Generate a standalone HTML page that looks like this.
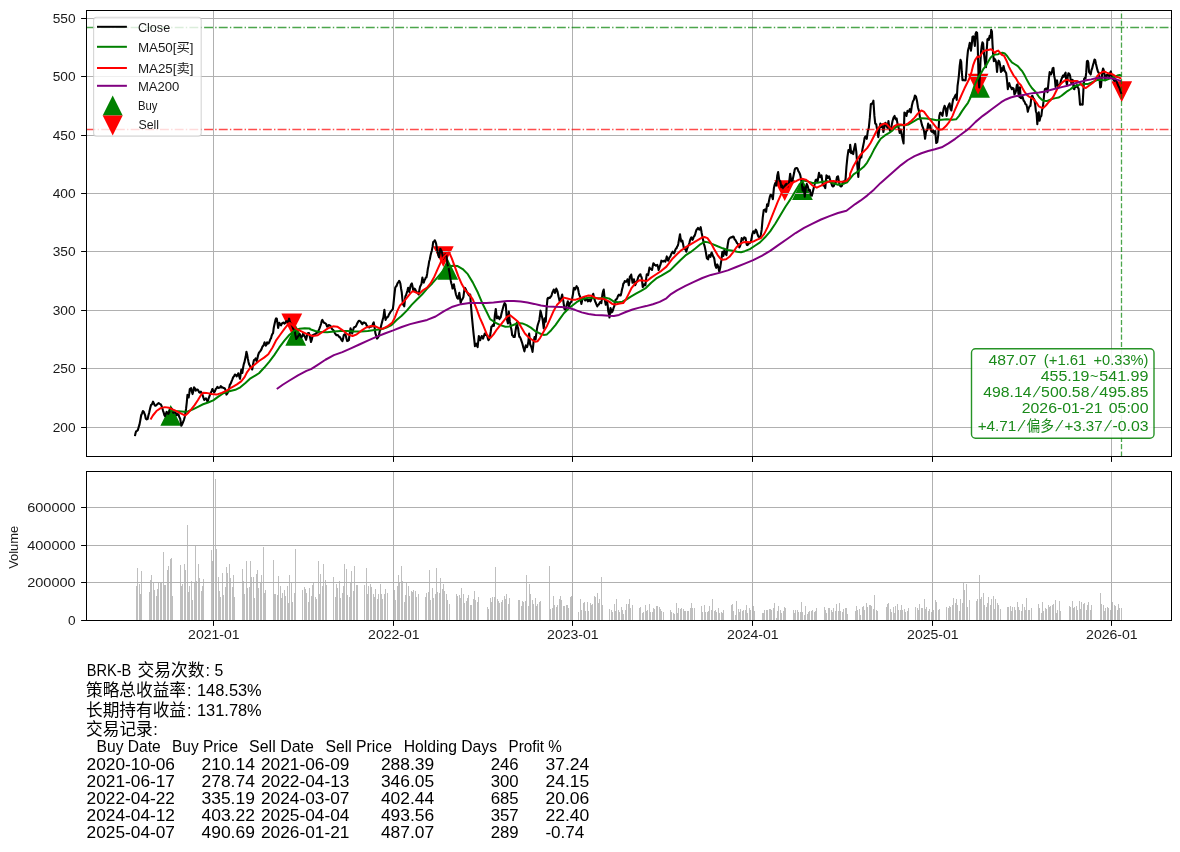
<!DOCTYPE html>
<html><head><meta charset="utf-8"><title>BRK-B</title>
<style>html,body{margin:0;padding:0;background:#fff}svg{display:block}</style></head>
<body>
<svg width="1180" height="852" viewBox="0 0 1180 852" font-family='"Liberation Sans","Noto Sans CJK SC",sans-serif'>
<rect width="1180" height="852" fill="#fff"/>
<clipPath id="c1"><rect x="86.5" y="10.5" width="1085.0" height="446.0"/></clipPath>
<clipPath id="c2"><rect x="86.5" y="471.5" width="1085.0" height="149.0"/></clipPath>
<g clip-path="url(#c1)">
</g>
<g clip-path="url(#c1)">
<polygon points="170.75,405.06 160.35,425.86 181.15,425.86" fill="#008000"/>
<polygon points="295.71,324.86 285.31,345.66 306.11,345.66" fill="#008000"/>
<polygon points="447.73,258.86 437.33,279.66 458.13,279.66" fill="#008000"/>
<polygon points="802.44,179.32 792.04,200.12 812.84,200.12" fill="#008000"/>
<polygon points="979.55,77.05 969.15,97.85 989.95,97.85" fill="#008000"/>
<polygon points="291.77,334.37 281.37,313.57 302.17,313.57" fill="#ff0000"/>
<polygon points="443.30,266.96 432.90,246.16 453.70,246.16" fill="#ff0000"/>
<polygon points="784.73,201.03 774.33,180.23 795.13,180.23" fill="#ff0000"/>
<polygon points="978.07,94.49 967.67,73.69 988.47,73.69" fill="#ff0000"/>
<polygon points="1121.73,102.08 1111.33,81.28 1132.13,81.28" fill="#ff0000"/>
<line x1="213.50" x2="213.50" y1="10.5" y2="456.5" stroke="#b0b0b0" stroke-width="1"/>
<line x1="393.50" x2="393.50" y1="10.5" y2="456.5" stroke="#b0b0b0" stroke-width="1"/>
<line x1="572.50" x2="572.50" y1="10.5" y2="456.5" stroke="#b0b0b0" stroke-width="1"/>
<line x1="752.50" x2="752.50" y1="10.5" y2="456.5" stroke="#b0b0b0" stroke-width="1"/>
<line x1="932.50" x2="932.50" y1="10.5" y2="456.5" stroke="#b0b0b0" stroke-width="1"/>
<line x1="1111.50" x2="1111.50" y1="10.5" y2="456.5" stroke="#b0b0b0" stroke-width="1"/>
<line x1="86.5" x2="1171.5" y1="427.50" y2="427.50" stroke="#b0b0b0" stroke-width="1"/>
<line x1="86.5" x2="1171.5" y1="368.50" y2="368.50" stroke="#b0b0b0" stroke-width="1"/>
<line x1="86.5" x2="1171.5" y1="310.50" y2="310.50" stroke="#b0b0b0" stroke-width="1"/>
<line x1="86.5" x2="1171.5" y1="251.50" y2="251.50" stroke="#b0b0b0" stroke-width="1"/>
<line x1="86.5" x2="1171.5" y1="193.50" y2="193.50" stroke="#b0b0b0" stroke-width="1"/>
<line x1="86.5" x2="1171.5" y1="135.50" y2="135.50" stroke="#b0b0b0" stroke-width="1"/>
<line x1="86.5" x2="1171.5" y1="76.50" y2="76.50" stroke="#b0b0b0" stroke-width="1"/>
<line x1="86.5" x2="1171.5" y1="18.50" y2="18.50" stroke="#b0b0b0" stroke-width="1"/>
<polyline points="134.92,436.10 135.51,433.31 136.10,431.36 136.95,430.84 137.80,430.17 138.65,427.17 139.49,424.58 140.34,420.08 141.19,415.25 142.03,413.34 142.88,411.02 143.73,411.76 144.58,413.90 145.17,415.49 145.76,418.64 146.69,419.35 147.63,418.98 148.39,415.46 149.15,412.71 150.09,408.47 151.02,405.08 152.04,404.18 153.05,401.69 153.90,403.51 154.75,405.42 155.59,405.79 156.44,405.08 157.54,404.03 158.64,403.05 159.66,403.87 160.68,404.24 161.53,405.80 162.37,408.47 163.05,410.81 163.73,412.71 164.32,414.99 164.92,416.10 165.76,414.02 166.61,411.86 167.46,413.27 168.31,413.90 169.16,412.31 170.00,410.17 170.84,408.62 171.69,408.47 172.54,411.00 173.39,412.71 174.24,412.43 175.08,411.86 175.93,413.24 176.78,415.25 177.62,414.08 178.47,414.41 179.32,417.11 180.17,418.64 180.76,422.16 181.36,425.76 182.21,424.25 183.05,422.03 183.90,420.10 184.75,416.95 185.43,413.05 186.10,408.47 186.78,402.37 187.46,394.92 188.05,396.02 188.64,397.46 189.24,393.70 189.83,388.98 190.51,388.47 191.19,388.14 191.87,391.80 192.54,394.07 193.31,391.29 194.07,387.29 194.91,388.34 195.76,390.68 196.61,389.50 197.46,389.49 198.31,390.48 199.15,392.37 200.00,392.69 200.85,391.53 201.69,393.12 202.54,394.92 203.39,397.66 204.24,400.00 205.09,398.84 205.93,398.31 206.78,400.01 207.63,401.69 208.47,398.97 209.32,396.61 210.17,394.25 211.02,392.37 211.69,390.81 212.37,388.98 213.22,390.81 214.07,392.37 214.91,391.32 215.76,388.98 216.61,388.17 217.46,386.78 218.31,387.98 219.15,387.80 220.00,387.52 220.85,386.10 221.69,387.48 222.54,387.29 223.39,387.99 224.24,388.14 224.83,388.45 225.42,389.83 226.44,394.58 227.29,393.63 228.14,391.53 228.99,388.88 229.83,384.75 230.68,383.70 231.53,381.36 232.38,379.35 233.22,377.12 234.07,376.19 234.92,374.58 235.76,374.96 236.61,376.27 237.46,375.28 238.31,373.22 239.16,376.13 240.00,378.81 240.68,373.81 241.36,369.49 242.37,372.88 243.05,367.95 243.73,364.41 244.41,362.43 245.08,359.32 245.76,356.29 246.44,351.69 247.12,354.42 247.80,358.47 248.48,361.92 249.15,364.41 249.83,365.54 250.51,366.95 251.35,367.66 252.20,369.49 253.05,364.50 253.90,360.17 254.75,359.75 255.59,358.47 256.61,361.02 257.38,358.65 258.14,355.08 258.99,352.66 259.83,351.69 260.68,350.60 261.53,349.15 262.38,346.73 263.22,345.76 263.90,344.41 264.58,342.37 265.17,343.79 265.76,345.76 266.44,344.67 267.12,342.37 267.97,343.56 268.81,343.22 269.66,341.11 270.51,338.98 271.10,338.08 271.69,335.59 272.37,334.02 273.05,333.05 273.64,328.56 274.24,325.42 274.91,322.61 275.59,319.49 276.18,318.32 276.78,318.64 277.46,322.82 278.14,327.97 278.73,325.28 279.32,322.88 280.17,324.33 281.02,325.42 281.87,323.60 282.71,322.88 283.56,322.57 284.41,323.73 285.25,323.05 286.10,321.19 286.95,321.31 287.80,322.03 288.48,321.07 289.15,318.64 289.75,321.39 290.34,322.88 291.18,323.95 292.03,325.42 292.62,327.05 293.22,328.81 293.90,329.69 294.58,330.51 295.42,334.98 296.27,338.98 297.12,337.86 297.97,336.44 298.82,335.26 299.66,333.90 300.51,335.79 301.36,337.29 302.21,336.30 303.05,333.90 303.90,335.18 304.75,336.44 305.43,338.02 306.10,339.83 306.70,337.22 307.29,333.90 308.13,333.06 308.98,333.05 310.00,337.18 311.02,341.95 311.87,339.32 312.71,335.17 313.56,334.78 314.41,334.32 315.25,333.97 316.10,333.47 316.95,332.27 317.80,332.63 318.64,330.37 319.49,328.39 320.34,325.98 321.19,323.31 321.78,320.85 322.37,319.92 323.05,321.38 323.73,322.46 324.58,323.10 325.42,323.31 326.27,324.30 327.12,326.69 327.97,326.05 328.81,325.00 329.66,325.37 330.51,325.85 331.36,327.83 332.20,329.24 333.05,329.85 333.90,330.93 334.75,332.96 335.59,334.32 336.44,335.13 337.29,335.17 338.13,335.25 338.98,336.86 339.83,337.01 340.68,338.56 341.52,340.11 342.37,341.10 343.05,338.88 343.73,335.17 344.58,334.35 345.42,334.32 346.27,337.64 347.12,341.10 347.97,340.82 348.81,340.25 349.66,334.03 350.51,328.39 351.36,330.71 352.20,333.47 353.05,330.21 353.90,327.54 354.75,326.91 355.59,326.69 356.44,325.15 357.29,323.31 358.13,321.72 358.98,320.76 359.83,320.99 360.68,321.61 361.52,323.32 362.37,324.15 363.22,322.55 364.07,322.46 364.91,323.00 365.76,323.31 366.61,325.38 367.46,326.69 368.30,326.81 369.15,327.54 370.00,326.67 370.85,326.69 371.70,326.33 372.54,325.00 373.13,323.31 373.73,322.46 374.58,327.46 375.42,333.47 376.27,335.91 377.12,338.56 377.97,337.61 378.81,336.02 379.66,331.57 380.51,328.39 381.36,324.72 382.20,321.61 382.79,319.22 383.39,317.37 384.41,309.75 385.00,315.37 385.59,319.92 386.18,318.55 386.78,317.37 387.46,317.52 388.14,316.53 388.99,314.31 389.83,313.14 390.68,311.60 391.53,310.59 392.20,309.99 392.88,308.90 393.48,304.01 394.07,297.88 394.66,292.72 395.25,287.71 395.93,286.43 396.61,286.02 397.29,283.72 397.97,282.63 398.56,281.83 399.15,280.93 399.75,281.71 400.34,283.47 401.01,288.20 401.69,291.95 402.37,298.85 403.05,304.66 403.64,305.00 404.24,306.36 404.83,300.92 405.42,296.19 406.10,294.99 406.78,292.80 407.46,290.48 408.14,287.71 408.73,290.32 409.32,291.95 409.91,288.74 410.51,286.02 411.19,284.15 411.86,283.47 412.54,286.53 413.22,290.25 413.90,289.88 414.58,288.56 415.25,289.46 415.93,291.10 416.61,291.70 417.29,292.80 417.97,293.51 418.64,294.49 419.32,290.55 420.00,286.86 420.68,285.45 421.36,284.32 422.37,277.54 423.05,280.76 423.73,282.63 424.40,280.38 425.08,279.24 425.76,277.60 426.44,277.54 427.12,274.01 427.80,269.07 428.48,265.86 429.15,261.44 429.83,259.25 430.51,255.51 431.19,252.86 431.86,250.42 432.54,246.91 433.22,241.95 433.99,241.78 434.75,240.25 435.43,241.50 436.10,243.64 436.87,248.27 437.63,252.12 438.31,255.20 438.98,257.20 439.66,253.23 440.34,248.73 441.01,250.03 441.69,251.27 442.46,254.75 443.22,258.90 443.90,256.95 444.58,255.51 445.34,254.22 446.10,253.81 446.78,258.20 447.46,263.98 448.13,266.67 448.81,269.07 449.40,272.12 450.00,275.85 450.68,280.16 451.36,283.47 451.95,285.29 452.54,288.56 453.22,287.09 453.90,284.32 454.57,288.02 455.25,291.10 455.93,294.32 456.61,296.19 457.29,298.09 457.97,298.73 458.64,296.40 459.32,292.80 460.00,298.01 460.68,302.97 461.36,300.50 462.03,299.58 462.71,298.70 463.39,297.03 464.07,291.84 464.75,287.71 465.43,288.66 466.10,290.25 466.78,291.79 467.46,292.80 468.13,294.11 468.81,295.34 469.49,294.78 470.17,294.49 471.19,308.05 471.87,316.38 472.54,323.31 473.13,329.42 473.73,335.17 474.33,340.43 474.92,346.19 475.60,344.52 476.27,343.64 476.95,345.91 477.63,347.03 478.22,341.49 478.81,336.02 479.49,338.59 480.17,340.25 480.93,337.90 481.69,336.02 482.37,336.81 483.05,338.56 483.90,336.07 484.75,333.47 485.43,334.83 486.10,335.17 486.70,335.07 487.29,336.02 487.88,338.60 488.47,340.25 489.15,339.23 489.83,336.86 490.17,335.25 490.76,331.50 491.36,326.78 492.03,326.45 492.71,325.08 493.30,324.72 493.90,325.93 494.92,314.92 495.76,308.98 496.36,313.85 496.95,318.31 497.63,318.04 498.31,316.61 498.90,317.16 499.49,319.15 500.09,317.94 500.68,317.46 501.36,314.12 502.03,311.53 502.71,309.03 503.39,306.44 503.99,304.62 504.58,303.05 505.17,303.86 505.76,304.75 506.78,318.31 507.38,321.29 507.97,323.39 508.81,311.53 509.83,321.69 510.42,323.86 511.02,327.63 511.61,330.73 512.20,335.25 512.88,335.50 513.56,336.95 514.15,336.35 514.75,336.95 515.34,332.02 515.93,328.47 516.95,322.54 517.55,326.26 518.14,328.47 518.73,333.28 519.32,336.95 520.00,337.13 520.68,338.64 521.27,340.34 521.86,342.03 522.54,344.28 523.22,347.12 523.82,348.94 524.41,351.36 525.09,348.15 525.76,345.42 526.44,346.51 527.12,347.12 527.71,344.71 528.31,342.03 529.15,333.56 530.17,344.58 530.76,345.63 531.36,347.12 531.95,349.00 532.54,351.86 533.56,342.03 534.58,336.95 535.59,339.49 536.18,334.56 536.78,330.17 537.38,326.60 537.97,324.24 538.64,322.21 539.32,320.00 539.91,315.69 540.51,310.68 541.53,314.92 542.12,317.27 542.71,320.00 543.73,328.47 544.75,318.31 545.76,321.69 546.61,308.14 547.46,298.81 548.05,297.89 548.64,298.31 549.24,297.63 549.83,297.97 550.51,296.92 551.19,296.27 551.87,294.32 552.54,292.03 553.13,291.21 553.73,289.49 554.33,290.99 554.92,292.88 555.60,291.24 556.27,288.64 556.87,290.11 557.46,291.19 558.47,296.27 559.07,298.71 559.66,301.36 560.34,299.88 561.02,298.81 561.61,296.69 562.20,294.58 562.80,298.29 563.39,301.36 564.41,308.98 565.00,309.28 565.59,309.83 566.18,307.60 566.78,304.75 567.80,301.36 568.39,303.84 568.98,306.44 569.58,304.34 570.17,303.05 570.85,302.26 571.53,301.36 572.20,298.28 572.88,294.58 573.48,290.50 574.07,287.80 574.66,288.52 575.25,289.49 575.93,287.68 576.61,286.10 577.20,287.56 577.80,287.80 578.81,292.88 579.40,295.27 580.00,296.27 580.68,299.88 581.36,303.90 581.95,301.57 582.54,297.97 583.13,298.01 583.73,297.12 584.40,298.43 585.08,300.51 585.76,299.60 586.44,298.81 587.12,299.48 587.80,301.36 588.47,301.01 589.15,299.66 589.83,300.77 590.51,301.36 591.18,299.86 591.86,297.12 592.54,295.89 593.22,293.73 593.90,296.96 594.58,299.66 595.25,301.73 595.93,303.05 596.61,304.85 597.29,306.44 597.96,304.96 598.64,304.75 599.32,303.62 600.00,302.20 600.68,301.83 601.36,303.05 602.37,294.58 603.05,291.46 603.73,289.49 604.75,299.66 605.76,304.75 606.44,303.49 607.12,301.36 607.71,305.72 608.31,311.53 608.90,313.84 609.49,317.46 610.51,308.14 611.10,309.61 611.69,312.37 612.37,311.71 613.05,309.83 613.64,307.62 614.24,306.44 614.91,302.29 615.59,299.66 616.44,299.36 617.29,297.97 618.13,295.67 618.98,294.58 619.83,295.55 620.68,295.42 621.36,292.73 622.03,289.49 622.71,287.06 623.39,283.56 624.07,283.01 624.75,281.02 625.42,281.57 626.10,281.86 626.78,281.07 627.46,279.32 628.13,281.54 628.81,285.25 629.83,276.78 630.51,276.11 631.19,274.58 631.87,278.66 632.54,282.71 633.22,281.36 633.90,279.32 634.49,281.66 635.08,285.25 635.76,283.95 636.44,281.86 637.04,281.29 637.63,279.32 638.31,276.92 638.98,275.93 639.66,274.80 640.34,274.24 641.02,276.04 641.69,277.63 642.71,286.95 643.39,286.20 644.07,284.41 644.75,284.42 645.42,285.25 646.10,279.23 646.78,274.24 647.46,274.26 648.14,275.08 648.82,271.46 649.49,267.46 650.17,268.71 650.85,269.15 651.44,269.40 652.03,270.00 652.71,266.40 653.39,263.22 653.99,263.90 654.58,264.92 655.25,265.10 655.93,265.76 656.61,265.21 657.29,264.92 657.96,266.79 658.64,270.00 659.32,267.88 660.00,265.76 660.68,263.98 661.36,260.68 662.04,260.97 662.71,261.53 663.39,261.50 664.07,260.68 664.75,260.56 665.42,261.53 666.10,259.29 666.78,256.44 667.46,258.97 668.14,260.68 668.82,259.26 669.49,257.29 670.17,256.78 670.85,255.11 671.53,253.39 672.12,252.51 672.71,251.69 673.31,252.77 673.90,253.39 674.58,252.33 675.25,250.00 675.93,248.59 676.61,248.31 677.20,246.39 677.80,245.76 678.39,243.19 678.98,239.83 680.00,234.24 680.60,238.55 681.19,241.53 681.78,241.13 682.37,240.68 683.05,243.98 683.73,247.46 684.40,248.66 685.08,249.15 685.67,249.92 686.27,251.69 686.95,249.20 687.63,247.46 688.22,245.71 688.81,244.92 689.49,242.51 690.17,239.83 690.76,238.26 691.36,237.29 691.95,238.13 692.54,239.83 693.22,238.44 693.90,236.44 694.58,235.90 695.25,233.90 695.93,231.45 696.61,229.66 697.29,229.14 697.97,227.97 698.64,228.68 699.32,229.66 700.00,228.96 700.68,227.12 701.69,233.05 702.71,238.14 703.73,243.22 704.75,246.61 705.76,251.69 706.36,255.22 706.95,258.47 707.55,258.52 708.14,259.32 709.15,255.08 709.83,255.48 710.51,256.78 711.10,253.90 711.69,252.54 712.29,254.20 712.88,255.93 713.56,257.01 714.24,258.47 715.25,265.25 716.27,267.80 717.29,264.41 718.31,266.95 719.32,271.69 720.34,266.95 721.36,260.17 722.37,251.69 723.39,255.93 724.41,250.00 725.42,253.39 726.44,255.08 727.46,246.61 728.05,242.70 728.64,239.83 729.24,238.76 729.83,238.14 730.51,237.43 731.19,237.29 731.87,237.47 732.54,236.78 733.22,236.46 733.90,237.29 734.58,239.35 735.25,239.83 735.93,241.07 736.61,242.37 737.29,243.38 737.97,244.07 738.64,245.71 739.32,247.46 740.00,246.30 740.68,244.07 741.69,238.14 742.37,239.50 743.05,239.83 743.64,238.65 744.24,237.29 744.91,237.69 745.59,238.14 746.18,241.88 746.78,244.92 747.46,245.07 748.14,244.07 748.82,243.49 749.49,243.22 750.17,242.75 750.85,241.53 751.53,238.88 752.20,234.75 753.22,231.36 753.90,232.15 754.58,233.05 755.17,230.92 755.76,229.66 756.36,230.51 756.95,232.20 757.63,234.67 758.31,236.44 758.98,237.15 759.66,237.29 760.25,236.75 760.85,234.75 761.69,229.66 762.71,217.80 763.73,210.17 764.40,210.31 765.08,209.32 766.10,211.86 767.12,204.24 768.14,205.93 768.73,202.13 769.32,199.15 769.91,196.54 770.51,194.92 771.18,194.95 771.86,195.76 772.88,199.15 773.90,188.14 774.58,185.09 775.25,183.05 776.27,185.59 777.29,175.42 778.14,172.03 779.15,179.66 779.75,180.84 780.34,181.36 781.36,187.29 782.37,185.59 783.05,187.86 783.73,188.98 784.40,187.92 785.08,185.59 785.76,184.35 786.44,183.90 787.12,185.75 787.80,186.44 788.47,184.02 789.15,182.20 790.17,173.73 791.19,180.51 792.20,182.20 792.88,178.69 793.56,175.42 794.15,172.82 794.75,169.49 795.42,168.24 796.10,168.31 796.87,167.99 797.63,168.98 798.31,171.04 798.98,172.03 799.66,173.39 800.34,175.42 800.93,178.58 801.53,182.20 802.12,186.57 802.71,190.68 803.73,187.29 804.75,196.61 805.76,188.14 806.78,183.90 807.80,186.44 808.81,190.68 809.83,189.83 810.85,194.92 811.86,195.76 812.88,191.53 813.90,187.29 814.49,185.03 815.08,182.20 815.67,180.14 816.27,179.66 816.95,180.25 817.63,181.36 818.31,177.02 818.98,172.88 819.58,174.98 820.17,177.12 820.85,175.81 821.53,175.42 822.12,179.80 822.71,183.90 823.39,185.47 824.07,185.59 824.66,186.69 825.25,188.14 825.85,181.85 826.44,175.42 827.12,176.09 827.80,177.97 828.47,176.76 829.15,176.27 829.75,178.65 830.34,180.51 830.93,181.59 831.53,183.90 832.20,185.79 832.88,186.44 833.56,186.25 834.24,184.75 834.91,183.26 835.59,183.05 836.27,180.79 836.95,177.12 837.97,176.27 838.64,179.88 839.32,183.90 840.00,185.61 840.68,186.44 841.36,186.43 842.03,185.59 842.71,183.15 843.39,181.36 844.41,183.05 845.00,181.21 845.59,178.81 846.44,166.95 847.46,156.78 848.47,150.00 849.15,151.09 849.83,151.69 850.17,144.75 851.19,153.22 852.20,151.53 853.22,154.07 854.24,148.14 855.25,143.90 856.27,151.53 857.29,165.08 858.31,176.95 859.32,161.69 860.34,156.61 861.36,157.46 862.37,149.83 863.39,144.75 863.99,141.85 864.58,137.97 865.17,136.74 865.76,136.27 866.78,138.81 867.80,131.19 868.81,127.80 869.83,117.63 870.85,104.07 871.53,104.05 872.20,103.22 872.80,102.69 873.39,100.68 874.41,115.93 875.25,123.56 876.27,124.41 877.29,131.19 878.31,137.12 879.32,129.49 880.34,123.56 881.36,126.95 882.37,124.41 883.39,132.03 884.41,126.95 885.42,122.71 886.44,125.25 887.46,127.80 888.47,121.02 889.49,129.49 890.51,131.19 891.53,126.10 892.54,121.02 893.56,117.63 894.58,115.93 895.59,119.32 896.61,118.47 897.63,124.41 898.64,127.80 899.66,132.88 900.68,129.49 901.69,134.58 902.71,139.66 903.56,143.39 904.41,112.54 905.42,113.39 906.44,115.93 907.46,110.85 908.05,111.55 908.64,111.69 909.24,110.48 909.83,109.15 910.85,112.54 911.86,105.76 912.88,101.53 913.90,99.83 914.92,95.59 915.93,96.44 916.95,100.68 917.97,107.46 918.98,110.85 920.00,117.63 921.02,121.02 922.03,125.25 923.05,127.80 924.07,131.19 925.08,138.81 926.10,131.19 927.12,130.34 928.14,123.56 929.15,127.80 930.17,125.25 931.19,131.19 932.20,132.03 933.22,130.34 934.24,133.73 935.25,131.19 936.27,143.05 937.29,142.20 938.31,134.58 939.32,115.93 940.08,112.88 940.67,112.56 941.27,113.47 941.87,114.65 942.46,115.85 943.05,112.05 943.64,108.73 944.59,105.76 945.66,108.73 946.61,115.85 947.20,112.04 947.80,107.54 948.75,105.17 949.58,103.39 950.41,108.73 951.36,110.51 952.31,103.98 953.14,99.24 954.08,98.05 954.92,96.27 955.86,94.49 956.69,99.83 957.53,86.19 958.24,80.85 958.83,76.10 959.66,66.02 960.49,59.85 961.20,61.86 961.80,71.95 962.51,80.25 963.22,79.66 963.82,80.24 964.41,80.25 965.00,80.36 965.59,80.25 966.42,70.76 967.14,58.90 967.97,50.59 968.92,47.03 969.75,42.88 970.34,44.66 970.93,50.59 971.76,44.66 972.47,36.95 973.31,36.36 974.14,40.51 974.85,45.85 975.56,33.98 976.27,32.20 977.10,32.80 977.69,43.47 978.17,62.46 978.64,80.25 979.24,87.37 979.83,76.69 980.42,62.46 981.02,51.78 981.73,45.85 982.44,42.29 983.15,43.47 983.86,52.97 984.58,58.90 985.29,64.83 986.00,67.20 986.71,50.59 987.42,39.32 988.14,38.73 988.85,39.92 989.68,35.76 990.51,37.54 991.22,29.83 991.93,31.61 992.53,44.66 993.12,54.15 993.83,61.27 994.66,58.90 995.49,60.08 996.20,62.46 997.03,71.95 997.86,63.64 998.58,60.68 999.41,61.86 1000.24,66.02 1000.95,71.95 1001.78,68.39 1002.61,70.76 1003.56,66.02 1004.51,70.17 1005.34,71.95 1006.17,73.14 1007.12,81.44 1007.83,89.15 1008.54,84.41 1009.25,83.22 1010.08,86.19 1010.92,87.37 1011.86,89.15 1012.69,87.97 1013.64,88.56 1014.47,94.49 1015.19,93.31 1016.02,90.93 1016.85,85.00 1017.56,84.41 1018.39,93.31 1019.22,96.86 1019.93,87.37 1020.76,98.05 1021.78,98.14 1022.61,96.95 1023.56,100.51 1024.51,101.69 1025.46,104.07 1026.41,104.66 1027.12,107.63 1027.83,111.78 1028.54,108.81 1029.49,106.44 1030.44,105.85 1031.39,96.95 1032.34,95.76 1033.29,98.14 1034.24,99.32 1035.19,104.66 1035.90,111.19 1036.61,113.56 1037.32,124.24 1038.03,115.93 1038.75,112.37 1039.58,120.68 1040.41,117.12 1041.36,115.93 1042.07,110.00 1042.78,107.63 1043.49,101.69 1044.20,93.39 1044.92,89.24 1045.86,88.64 1046.81,88.64 1047.53,92.20 1048.24,85.08 1048.95,77.97 1049.66,72.03 1050.37,73.22 1051.08,74.41 1051.80,72.63 1052.63,68.47 1053.46,67.88 1054.17,75.59 1054.88,79.15 1055.59,86.86 1056.31,80.93 1057.02,80.34 1057.73,85.08 1058.44,87.46 1059.15,85.68 1060.10,83.90 1061.05,80.34 1062.00,77.97 1062.95,75.59 1063.90,76.78 1064.61,74.41 1065.56,72.63 1066.27,81.53 1066.98,85.08 1067.69,76.78 1068.41,73.22 1069.36,73.81 1070.07,75.59 1070.78,80.34 1071.49,83.90 1072.20,79.75 1072.92,80.34 1073.63,88.64 1074.34,89.24 1075.05,85.68 1076.00,86.86 1076.95,85.08 1077.90,87.46 1078.61,88.64 1079.32,95.76 1080.03,104.66 1080.98,104.66 1081.93,104.07 1082.64,104.66 1083.36,91.02 1084.07,79.15 1084.78,77.97 1085.49,78.56 1086.20,72.63 1086.92,61.36 1087.63,60.76 1088.34,62.54 1089.05,72.03 1090.00,73.22 1090.71,74.41 1091.42,70.25 1092.14,68.47 1092.85,65.51 1093.56,63.14 1094.51,59.58 1095.22,60.17 1095.93,63.73 1096.64,66.69 1097.36,69.66 1098.07,72.03 1098.78,72.63 1099.49,77.97 1100.20,87.46 1100.92,86.86 1101.63,79.15 1102.34,72.03 1103.05,68.47 1103.76,70.25 1104.47,74.41 1105.19,80.34 1105.90,76.78 1106.61,75.00 1107.56,75.59 1108.51,74.41 1109.46,76.78 1110.17,72.63 1110.88,71.44 1111.59,75.00 1112.54,77.97 1113.49,79.75 1114.44,80.93 1115.39,79.15 1116.34,80.93 1117.29,83.31 1118.24,85.68 1119.19,87.46 1120.14,89.83 1120.85,92.20 1121.44,93.98" fill="none" stroke="#000000" stroke-width="2.1" stroke-linejoin="round" stroke-linecap="butt"/>
<polyline points="170.00,410.17 175.93,411.02 184.41,411.86 187.80,411.53 192.88,409.32 197.97,406.78 203.05,404.24 208.14,402.54 213.22,400.34 218.31,396.61 223.39,393.22 228.47,391.53 235.25,389.83 240.34,387.29 245.42,383.05 250.51,378.31 255.59,375.42 258.98,373.22 264.07,367.80 269.15,361.86 274.24,355.08 279.32,347.46 284.41,340.68 289.49,334.75 294.58,330.51 299.66,328.81 304.75,328.14 309.83,328.47 310.17,329.24 315.25,330.93 320.34,332.12 327.12,332.29 333.90,331.44 340.68,330.93 347.46,331.10 354.24,331.44 361.02,331.44 367.80,330.93 374.58,330.08 381.36,329.24 386.44,327.54 391.53,325.00 396.61,319.92 401.69,315.68 406.78,310.59 411.86,304.66 416.95,299.58 422.03,294.49 427.12,288.56 432.20,283.47 437.29,277.54 442.37,271.61 447.46,267.37 452.54,265.68 457.63,266.02 462.71,269.07 467.80,274.15 472.88,282.63 477.97,292.80 482.20,302.97 486.44,311.44 490.17,319.15 495.25,322.54 500.34,325.08 505.42,326.78 509.66,326.44 513.90,324.75 518.14,323.05 522.37,323.39 526.61,325.08 530.85,327.63 535.08,331.02 539.32,333.22 543.56,334.92 546.95,334.41 551.19,330.17 555.42,325.08 559.66,319.15 563.90,313.22 568.14,308.98 572.37,305.59 576.61,302.20 580.85,299.66 585.08,298.31 590.17,297.63 595.25,298.31 600.34,298.31 605.42,297.63 609.66,298.81 613.90,301.69 618.14,302.20 622.37,301.69 626.61,299.32 630.85,296.61 635.93,293.73 641.02,290.85 646.10,287.80 651.19,282.71 656.27,278.47 661.36,275.59 666.44,272.54 670.17,270.34 675.25,265.25 680.34,260.17 685.42,255.42 690.51,252.20 695.59,248.31 700.68,244.07 704.41,241.86 708.31,242.37 712.54,244.07 717.63,246.27 722.71,248.31 727.80,250.00 732.88,250.85 737.12,251.69 741.02,252.20 744.75,251.19 749.83,249.15 754.92,245.76 760.00,242.37 765.08,237.29 770.17,231.36 775.25,223.73 780.34,215.25 785.42,206.78 790.51,199.15 795.59,190.68 799.83,183.90 803.22,180.51 807.46,181.36 812.54,183.05 817.63,182.71 822.71,181.86 827.80,181.36 832.88,183.05 837.97,184.75 843.05,183.90 847.29,182.20 853.56,174.41 858.64,171.02 863.73,166.78 867.12,162.54 870.51,156.61 873.90,149.83 877.29,143.90 880.68,138.81 884.92,135.42 889.15,132.88 892.54,130.34 895.93,126.95 900.17,125.25 904.41,125.25 908.64,124.41 912.88,121.86 917.12,119.32 921.36,118.14 926.44,118.47 931.53,119.32 936.61,120.17 941.69,119.66 946.78,119.32 951.86,119.83 956.10,119.32 959.07,115.85 962.03,111.10 965.00,106.95 967.97,102.80 970.34,98.05 972.12,92.71 973.90,87.37 976.27,81.44 978.64,76.69 981.02,73.14 983.39,68.98 985.76,66.02 988.14,61.86 990.51,57.71 992.88,55.34 995.25,54.39 998.22,54.15 1000.00,53.20 1002.37,52.73 1004.75,53.56 1007.12,55.93 1009.49,59.49 1011.86,62.46 1014.83,64.24 1017.80,66.02 1020.17,68.98 1022.37,71.44 1024.75,75.59 1027.12,80.34 1029.49,84.49 1031.86,88.05 1034.24,90.42 1036.61,93.39 1038.98,96.95 1041.36,99.32 1043.73,100.86 1046.69,101.10 1049.66,99.92 1052.63,98.73 1055.59,98.14 1058.56,97.54 1061.53,95.76 1064.49,93.39 1067.46,91.02 1070.42,89.24 1073.39,86.86 1076.36,85.68 1079.32,84.85 1082.29,84.14 1085.25,83.90 1088.22,83.90 1091.19,82.71 1094.15,81.29 1097.12,80.10 1100.08,79.75 1103.05,80.34 1106.02,80.10 1108.98,78.92 1111.95,77.73 1114.92,76.78 1117.29,75.59 1119.66,75.00 1121.44,75.59" fill="none" stroke="#008000" stroke-width="2.0" stroke-linejoin="round" stroke-linecap="butt"/>
<polyline points="150.51,419.49 153.05,415.25 156.44,411.02 160.68,408.14 164.92,407.12 169.15,407.80 174.24,410.17 179.32,412.71 185.25,415.59 187.80,413.22 191.19,409.32 194.58,405.08 197.97,400.00 201.02,394.92 203.05,392.71 206.44,392.88 211.53,394.07 216.61,394.58 221.69,392.88 226.78,390.68 231.86,387.29 236.95,384.41 241.19,381.36 244.58,377.12 247.12,372.03 249.66,368.64 253.90,365.25 258.98,361.02 264.07,357.63 268.31,354.24 272.54,347.46 275.93,340.68 280.17,334.75 284.41,328.81 287.80,324.58 289.49,322.88 292.88,325.42 296.27,328.81 301.36,331.36 306.44,333.90 312.71,336.02 317.80,335.17 322.88,331.78 327.97,328.39 333.05,326.36 337.29,326.69 342.37,330.08 347.46,334.32 352.54,336.02 356.78,334.32 361.02,330.93 366.10,327.54 371.19,326.02 375.42,326.36 379.66,328.39 383.05,328.73 388.14,325.85 392.37,322.46 394.92,317.37 397.46,310.59 400.00,305.51 403.39,302.12 406.78,297.88 410.17,293.64 412.71,291.10 416.10,292.46 419.49,293.64 422.88,290.25 427.12,287.71 430.51,283.47 433.90,277.54 437.29,269.92 440.68,262.29 444.07,256.36 447.46,252.97 449.15,252.46 451.69,258.05 455.08,267.37 458.47,276.69 461.86,284.32 465.25,290.25 469.49,294.49 472.88,299.58 476.27,308.05 479.66,317.37 483.05,325.00 486.44,333.47 488.98,337.71 490.51,337.80 493.56,334.41 496.95,329.32 500.34,325.08 503.73,320.85 507.12,316.61 510.17,315.25 513.90,318.31 518.14,321.69 521.53,327.63 524.92,333.56 528.31,336.95 531.69,339.49 535.08,341.69 537.63,341.19 540.17,337.80 543.56,331.86 546.95,325.93 550.34,318.31 553.73,310.68 557.12,304.75 560.51,301.36 563.90,297.63 567.29,298.47 571.53,299.66 575.76,299.66 580.00,298.31 584.24,296.61 588.47,295.42 591.86,295.76 595.25,297.63 598.64,298.81 602.03,298.47 605.42,299.66 608.81,301.36 612.20,303.90 615.59,304.41 619.83,303.56 623.22,303.05 625.76,299.66 628.31,294.58 631.69,287.80 635.08,283.56 639.32,280.17 642.71,280.51 646.95,281.02 651.19,277.63 656.27,274.24 661.36,270.85 666.44,266.61 672.71,258.47 676.95,254.24 681.19,250.34 685.42,247.46 689.66,244.92 693.90,242.37 698.14,239.83 701.53,237.80 704.41,236.95 707.46,238.14 710.85,242.88 714.24,249.15 717.63,255.08 720.17,258.47 722.71,259.83 726.10,259.32 729.49,256.78 732.88,252.54 736.27,247.46 739.66,244.07 743.05,242.37 746.44,242.03 749.83,242.37 753.22,241.53 756.61,239.83 760.85,238.14 764.24,233.90 767.63,227.12 771.02,218.64 774.41,210.17 777.80,201.69 781.19,194.07 784.58,188.98 787.97,185.59 791.36,183.05 795.59,181.36 798.98,179.66 802.03,178.81 805.76,179.66 809.15,182.20 812.54,185.59 816.78,187.63 821.02,185.59 825.25,183.05 829.49,181.36 833.73,181.02 837.97,181.86 842.20,181.86 846.44,181.02 849.83,177.12 850.17,173.56 853.56,165.93 856.95,160.00 860.34,154.92 863.73,151.53 867.12,148.14 870.51,143.05 873.90,136.27 877.29,129.49 880.68,125.25 884.07,123.56 886.61,124.07 889.15,126.95 891.69,129.15 894.24,126.10 897.63,124.41 901.02,124.41 904.41,125.25 907.80,123.56 911.19,121.02 914.58,117.63 917.97,113.39 921.36,110.51 923.90,111.69 926.44,115.08 929.83,119.32 933.22,123.56 936.61,127.80 939.15,129.83 942.54,129.15 945.93,126.10 949.32,121.86 952.54,115.85 954.92,109.92 957.29,104.58 959.66,99.24 962.03,93.90 964.41,88.56 966.78,83.81 969.15,79.07 971.53,71.95 973.31,64.83 975.08,60.08 977.46,56.53 979.24,57.12 981.02,54.75 983.39,51.19 985.76,50.36 988.14,50.00 991.10,49.17 992.88,50.59 994.66,52.97 996.44,51.19 998.22,50.59 1000.00,52.73 1001.78,54.75 1004.15,55.93 1006.53,60.68 1008.90,66.61 1011.27,71.36 1013.64,75.51 1016.02,78.47 1018.39,82.63 1020.76,85.00 1022.37,88.05 1024.75,92.20 1027.12,95.17 1029.49,96.95 1031.86,98.14 1034.24,99.92 1036.61,102.88 1038.98,106.44 1041.36,107.63 1043.73,107.63 1046.10,105.25 1048.47,102.29 1050.85,99.92 1053.22,96.95 1055.59,92.20 1057.97,87.46 1060.34,84.49 1062.71,82.12 1065.08,80.34 1067.46,79.75 1069.83,80.93 1072.20,81.53 1074.58,80.93 1076.95,80.93 1079.32,82.12 1081.69,85.08 1084.07,87.46 1085.85,88.05 1088.22,86.27 1090.59,84.49 1092.97,82.71 1095.34,80.34 1097.12,76.19 1099.49,73.81 1101.86,72.27 1104.24,71.44 1106.61,72.63 1108.98,73.46 1111.36,73.81 1113.73,75.00 1116.10,76.78 1118.47,77.37 1121.44,78.56" fill="none" stroke="#ff0000" stroke-width="2.0" stroke-linejoin="round" stroke-linecap="butt"/>
<polyline points="276.78,388.98 282.71,384.75 289.49,380.51 297.97,375.42 306.44,370.85 311.02,369.07 316.95,365.34 325.42,359.75 333.90,355.17 342.37,352.12 350.85,348.39 359.32,344.49 367.80,340.59 376.27,336.86 384.75,333.47 393.22,330.42 401.69,327.03 410.17,324.15 418.64,321.95 427.12,319.92 435.59,316.53 444.07,311.10 452.54,306.69 461.02,304.15 469.49,302.97 477.97,302.97 486.44,302.97 493.56,302.54 500.34,301.69 507.12,301.02 513.90,301.02 520.68,301.53 527.46,302.54 534.24,303.90 541.02,305.59 547.80,306.44 554.58,306.78 561.36,306.95 568.14,307.80 574.92,309.83 581.69,312.37 588.47,314.07 595.25,314.92 602.03,315.25 608.81,315.76 613.90,315.93 618.98,314.92 625.76,312.03 632.54,309.49 639.32,307.63 646.10,306.10 652.88,304.24 659.66,301.86 666.44,298.31 671.02,294.07 676.95,290.34 685.42,285.93 693.90,281.86 702.37,277.97 710.85,274.92 719.32,272.88 727.80,270.34 736.27,266.95 744.75,263.56 753.22,260.17 761.69,255.93 770.17,250.85 778.64,244.92 787.12,238.98 795.59,233.05 804.07,227.97 812.54,223.73 821.02,219.49 829.49,216.10 837.97,213.05 846.44,210.68 855.25,204.07 860.34,200.68 867.12,195.59 873.90,189.66 880.68,182.88 887.46,176.95 894.24,171.02 901.02,165.08 907.80,160.00 914.58,156.10 921.36,153.22 928.14,151.02 934.92,149.32 941.69,147.29 948.47,143.39 955.25,138.81 962.03,133.73 968.81,128.64 975.59,121.86 982.80,115.85 986.95,112.88 991.69,109.32 996.44,105.76 1001.19,102.20 1005.93,99.47 1010.68,97.46 1015.42,96.27 1020.17,95.44 1024.75,94.81 1029.49,93.63 1034.24,93.03 1038.98,92.56 1043.73,91.85 1048.47,90.42 1053.22,89.24 1057.97,88.05 1062.71,86.86 1067.46,85.68 1072.20,84.14 1076.95,82.71 1081.69,81.53 1086.44,80.34 1091.19,79.39 1095.93,78.20 1100.68,77.73 1105.42,77.73 1110.17,77.97 1114.92,78.92 1118.47,80.10 1121.44,81.29" fill="none" stroke="#800080" stroke-width="2.0" stroke-linejoin="round" stroke-linecap="butt"/>
<line x1="86.5" x2="1171.5" y1="27.5" y2="27.5" stroke="#008000" stroke-opacity="0.7" stroke-width="1.3" stroke-dasharray="8.9,2.2,1.4,2.2"/>
<line x1="86.5" x2="1171.5" y1="129.5" y2="129.5" stroke="#ff0000" stroke-opacity="0.7" stroke-width="1.3" stroke-dasharray="8.9,2.2,1.4,2.2"/>
<line x1="1121.50" x2="1121.50" y1="456.5" y2="10.5" stroke="#008000" stroke-opacity="0.7" stroke-width="1.3" stroke-dasharray="5.1,2.2"/>
</g>
<rect x="86.5" y="10.5" width="1085.0" height="446.0" fill="none" stroke="#000" stroke-width="1"/>
<line x1="213.50" x2="213.50" y1="456.5" y2="461.9" stroke="#000" stroke-width="1"/>
<line x1="393.50" x2="393.50" y1="456.5" y2="461.9" stroke="#000" stroke-width="1"/>
<line x1="572.50" x2="572.50" y1="456.5" y2="461.9" stroke="#000" stroke-width="1"/>
<line x1="752.50" x2="752.50" y1="456.5" y2="461.9" stroke="#000" stroke-width="1"/>
<line x1="932.50" x2="932.50" y1="456.5" y2="461.9" stroke="#000" stroke-width="1"/>
<line x1="1111.50" x2="1111.50" y1="456.5" y2="461.9" stroke="#000" stroke-width="1"/>
<line x1="81.1" x2="86.5" y1="427.50" y2="427.50" stroke="#000" stroke-width="1"/>
<text x="75.60" y="431.90" font-size="12.5" text-anchor="end" fill="#1a1a1a" textLength="22.9" lengthAdjust="spacingAndGlyphs">200</text>
<line x1="81.1" x2="86.5" y1="368.50" y2="368.50" stroke="#000" stroke-width="1"/>
<text x="75.60" y="372.90" font-size="12.5" text-anchor="end" fill="#1a1a1a" textLength="22.9" lengthAdjust="spacingAndGlyphs">250</text>
<line x1="81.1" x2="86.5" y1="310.50" y2="310.50" stroke="#000" stroke-width="1"/>
<text x="75.60" y="314.90" font-size="12.5" text-anchor="end" fill="#1a1a1a" textLength="22.9" lengthAdjust="spacingAndGlyphs">300</text>
<line x1="81.1" x2="86.5" y1="251.50" y2="251.50" stroke="#000" stroke-width="1"/>
<text x="75.60" y="255.90" font-size="12.5" text-anchor="end" fill="#1a1a1a" textLength="22.9" lengthAdjust="spacingAndGlyphs">350</text>
<line x1="81.1" x2="86.5" y1="193.50" y2="193.50" stroke="#000" stroke-width="1"/>
<text x="75.60" y="197.90" font-size="12.5" text-anchor="end" fill="#1a1a1a" textLength="22.9" lengthAdjust="spacingAndGlyphs">400</text>
<line x1="81.1" x2="86.5" y1="135.50" y2="135.50" stroke="#000" stroke-width="1"/>
<text x="75.60" y="139.90" font-size="12.5" text-anchor="end" fill="#1a1a1a" textLength="22.9" lengthAdjust="spacingAndGlyphs">450</text>
<line x1="81.1" x2="86.5" y1="76.50" y2="76.50" stroke="#000" stroke-width="1"/>
<text x="75.60" y="80.90" font-size="12.5" text-anchor="end" fill="#1a1a1a" textLength="22.9" lengthAdjust="spacingAndGlyphs">500</text>
<line x1="81.1" x2="86.5" y1="18.50" y2="18.50" stroke="#000" stroke-width="1"/>
<text x="75.60" y="22.90" font-size="12.5" text-anchor="end" fill="#1a1a1a" textLength="22.9" lengthAdjust="spacingAndGlyphs">550</text>
<rect x="93.6" y="17.2" width="107.6" height="119.1" rx="3" ry="3" fill="#fff" fill-opacity="0.8" stroke="#ccc" stroke-opacity="0.8" stroke-width="1.1"/>
<line x1="97" x2="126.9" y1="26.8" y2="26.8" stroke="#000" stroke-width="2.0"/>
<line x1="97" x2="126.9" y1="46.8" y2="46.8" stroke="#008000" stroke-width="2.0"/>
<line x1="97" x2="126.9" y1="68.0" y2="68.0" stroke="#f00" stroke-width="2.0"/>
<line x1="97" x2="126.9" y1="85.8" y2="85.8" stroke="#800080" stroke-width="2.0"/>
<polygon points="112.70,95.60 102.70,115.60 122.70,115.60" fill="#008000"/>
<polygon points="112.70,135.40 102.70,115.40 122.70,115.40" fill="#ff0000"/>
<text x="137.90" y="31.80" font-size="12.5" text-anchor="start" fill="#1a1a1a" textLength="32.3" lengthAdjust="spacingAndGlyphs">Close</text>
<text x="137.90" y="51.50" font-size="12.5" text-anchor="start" fill="#1a1a1a" textLength="55.7" lengthAdjust="spacingAndGlyphs">MA50[买]</text>
<text x="137.90" y="72.60" font-size="12.5" text-anchor="start" fill="#1a1a1a" textLength="55.7" lengthAdjust="spacingAndGlyphs">MA25[卖]</text>
<text x="137.90" y="91.20" font-size="12.5" text-anchor="start" fill="#1a1a1a" textLength="41.5" lengthAdjust="spacingAndGlyphs">MA200</text>
<text x="137.90" y="109.50" font-size="12.5" text-anchor="start" fill="#1a1a1a" textLength="19.5" lengthAdjust="spacingAndGlyphs">Buy</text>
<text x="138.50" y="128.70" font-size="12.5" text-anchor="start" fill="#1a1a1a" textLength="20.6" lengthAdjust="spacingAndGlyphs">Sell</text>
<rect x="971.5" y="348.7" width="182.5" height="89.5" rx="4" ry="4" fill="#fff" fill-opacity="0.85" stroke="#008000" stroke-opacity="0.85" stroke-width="1.4"/>
<text x="988.41" y="365.00" font-size="15.3" text-anchor="start" fill="#1a8a1a" textLength="48.2" lengthAdjust="spacingAndGlyphs">487.07</text>
<text x="1043.73" y="365.00" font-size="15.3" text-anchor="start" fill="#1a8a1a" textLength="42.7" lengthAdjust="spacingAndGlyphs">(+1.61</text>
<text x="1093.56" y="365.00" font-size="15.3" text-anchor="start" fill="#1a8a1a" textLength="54.9" lengthAdjust="spacingAndGlyphs">+0.33%)</text>
<text x="1040.68" y="380.60" font-size="15.3" text-anchor="start" fill="#1a8a1a" textLength="48.8" lengthAdjust="spacingAndGlyphs">455.19</text>
<text x="1090.10" y="380.60" font-size="15.3" text-anchor="start" fill="#1a8a1a" textLength="8.5" lengthAdjust="spacingAndGlyphs">~</text>
<text x="1099.25" y="380.60" font-size="15.3" text-anchor="start" fill="#1a8a1a" textLength="49.2" lengthAdjust="spacingAndGlyphs">541.99</text>
<text x="983.32" y="396.70" font-size="15.3" text-anchor="start" fill="#1a8a1a" textLength="48.2" lengthAdjust="spacingAndGlyphs">498.14</text>
<text transform="translate(1032.84,396.7) skewX(-19)" font-size="15.3" fill="#1a8a1a">/</text>
<text x="1041.08" y="396.70" font-size="15.3" text-anchor="start" fill="#1a8a1a" textLength="48.4" lengthAdjust="spacingAndGlyphs">500.58</text>
<text transform="translate(1090.81,396.7) skewX(-19)" font-size="15.3" fill="#1a8a1a">/</text>
<text x="1099.25" y="396.70" font-size="15.3" text-anchor="start" fill="#1a8a1a" textLength="49.2" lengthAdjust="spacingAndGlyphs">495.85</text>
<text x="1021.76" y="412.90" font-size="15.3" text-anchor="start" fill="#1a8a1a" textLength="80.9" lengthAdjust="spacingAndGlyphs">2026-01-21</text>
<text x="1108.81" y="412.90" font-size="15.3" text-anchor="start" fill="#1a8a1a" textLength="39.7" lengthAdjust="spacingAndGlyphs">05:00</text>
<text x="977.63" y="430.90" font-size="15.3" text-anchor="start" fill="#1a8a1a" textLength="38.6" lengthAdjust="spacingAndGlyphs">+4.71</text>
<text transform="translate(1017.59,430.9) skewX(-19)" font-size="15.3" fill="#1a8a1a">/</text>
<text x="1026.44" y="430.90" font-size="15.3" text-anchor="start" fill="#1a8a1a" textLength="27.5" lengthAdjust="spacingAndGlyphs">偏多</text>
<text transform="translate(1055.22,430.9) skewX(-19)" font-size="15.3" fill="#1a8a1a">/</text>
<text x="1064.47" y="430.90" font-size="15.3" text-anchor="start" fill="#1a8a1a" textLength="38.2" lengthAdjust="spacingAndGlyphs">+3.37</text>
<text transform="translate(1104.03,430.9) skewX(-19)" font-size="15.3" fill="#1a8a1a">/</text>
<text x="1112.47" y="430.90" font-size="15.3" text-anchor="start" fill="#1a8a1a" textLength="36.0" lengthAdjust="spacingAndGlyphs">-0.03</text>
<g clip-path="url(#c2)">
<path d="M136 620.5V586.2h1V620.5zM137 620.5V567.5h1V620.5zM139 620.5V583.8h1V620.5zM140 620.5V593.8h1V620.5zM141 620.5V571.2h1V620.5zM149 620.5V592.4h1V620.5zM150 620.5V579.5h1V620.5zM151 620.5V575.3h1V620.5zM153 620.5V582.5h1V620.5zM154 620.5V589.6h1V620.5zM156 620.5V595.7h1V620.5zM157 620.5V589.0h1V620.5zM158 620.5V581.6h1V620.5zM160 620.5V582.3h1V620.5zM161 620.5V583.0h1V620.5zM163 620.5V551.6h1V620.5zM164 620.5V585.0h1V620.5zM165 620.5V584.5h1V620.5zM167 620.5V569.8h1V620.5zM168 620.5V566.3h1V620.5zM170 620.5V559.4h1V620.5zM171 620.5V558.1h1V620.5zM172 620.5V595.8h1V620.5zM180 620.5V564.9h1V620.5zM181 620.5V585.8h1V620.5zM182 620.5V583.6h1V620.5zM184 620.5V563.6h1V620.5zM185 620.5V570.0h1V620.5zM187 620.5V524.5h1V620.5zM188 620.5V591.5h1V620.5zM189 620.5V585.8h1V620.5zM191 620.5V581.2h1V620.5zM192 620.5V599.6h1V620.5zM194 620.5V582.9h1V620.5zM195 620.5V544.6h1V620.5zM196 620.5V581.4h1V620.5zM198 620.5V563.5h1V620.5zM199 620.5V578.3h1V620.5zM201 620.5V591.4h1V620.5zM202 620.5V586.3h1V620.5zM203 620.5V578.9h1V620.5zM211 620.5V550.2h1V620.5zM212 620.5V560.7h1V620.5zM213 620.5V582.4h1V620.5zM215 620.5V478.5h1V620.5zM216 620.5V548.5h1V620.5zM218 620.5V577.2h1V620.5zM219 620.5V591.1h1V620.5zM220 620.5V597.3h1V620.5zM222 620.5V572.7h1V620.5zM223 620.5V594.9h1V620.5zM225 620.5V586.5h1V620.5zM226 620.5V566.7h1V620.5zM227 620.5V572.7h1V620.5zM229 620.5V563.8h1V620.5zM230 620.5V577.8h1V620.5zM232 620.5V586.5h1V620.5zM233 620.5V575.4h1V620.5zM234 620.5V597.0h1V620.5zM242 620.5V568.8h1V620.5zM243 620.5V580.5h1V620.5zM244 620.5V594.3h1V620.5zM246 620.5V560.8h1V620.5zM247 620.5V588.2h1V620.5zM249 620.5V587.3h1V620.5zM250 620.5V560.5h1V620.5zM251 620.5V576.8h1V620.5zM253 620.5V577.0h1V620.5zM254 620.5V598.1h1V620.5zM256 620.5V574.2h1V620.5zM257 620.5V570.1h1V620.5zM258 620.5V588.4h1V620.5zM260 620.5V583.1h1V620.5zM261 620.5V575.0h1V620.5zM263 620.5V546.5h1V620.5zM264 620.5V593.1h1V620.5zM265 620.5V589.7h1V620.5zM273 620.5V559.8h1V620.5zM274 620.5V594.2h1V620.5zM275 620.5V594.2h1V620.5zM277 620.5V594.8h1V620.5zM278 620.5V576.3h1V620.5zM280 620.5V586.2h1V620.5zM281 620.5V597.8h1V620.5zM282 620.5V592.5h1V620.5zM284 620.5V590.2h1V620.5zM285 620.5V596.0h1V620.5zM287 620.5V586.2h1V620.5zM288 620.5V603.1h1V620.5zM289 620.5V574.8h1V620.5zM291 620.5V583.4h1V620.5zM292 620.5V601.8h1V620.5zM294 620.5V592.6h1V620.5zM295 620.5V548.5h1V620.5zM302 620.5V589.7h1V620.5zM304 620.5V587.0h1V620.5zM305 620.5V589.1h1V620.5zM306 620.5V592.6h1V620.5zM308 620.5V602.1h1V620.5zM309 620.5V587.7h1V620.5zM311 620.5V595.7h1V620.5zM312 620.5V584.5h1V620.5zM313 620.5V583.3h1V620.5zM315 620.5V597.0h1V620.5zM316 620.5V598.6h1V620.5zM318 620.5V560.5h1V620.5zM319 620.5V593.6h1V620.5zM320 620.5V574.2h1V620.5zM322 620.5V586.0h1V620.5zM323 620.5V563.5h1V620.5zM325 620.5V579.7h1V620.5zM326 620.5V585.4h1V620.5zM333 620.5V577.4h1V620.5zM335 620.5V597.3h1V620.5zM336 620.5V583.6h1V620.5zM337 620.5V587.5h1V620.5zM339 620.5V580.8h1V620.5zM340 620.5V597.5h1V620.5zM342 620.5V593.2h1V620.5zM343 620.5V586.1h1V620.5zM344 620.5V563.9h1V620.5zM346 620.5V569.3h1V620.5zM347 620.5V595.2h1V620.5zM349 620.5V597.3h1V620.5zM350 620.5V581.8h1V620.5zM351 620.5V571.4h1V620.5zM353 620.5V591.3h1V620.5zM354 620.5V566.2h1V620.5zM356 620.5V585.1h1V620.5zM357 620.5V585.4h1V620.5zM364 620.5V585.2h1V620.5zM366 620.5V567.5h1V620.5zM367 620.5V594.4h1V620.5zM368 620.5V585.5h1V620.5zM370 620.5V584.3h1V620.5zM371 620.5V586.8h1V620.5zM373 620.5V594.2h1V620.5zM374 620.5V596.9h1V620.5zM375 620.5V588.8h1V620.5zM377 620.5V598.8h1V620.5zM378 620.5V594.1h1V620.5zM380 620.5V584.3h1V620.5zM381 620.5V594.2h1V620.5zM382 620.5V598.8h1V620.5zM384 620.5V593.6h1V620.5zM385 620.5V588.6h1V620.5zM387 620.5V592.6h1V620.5zM394 620.5V590.0h1V620.5zM395 620.5V600.1h1V620.5zM397 620.5V586.1h1V620.5zM398 620.5V574.5h1V620.5zM399 620.5V583.4h1V620.5zM401 620.5V566.1h1V620.5zM402 620.5V581.4h1V620.5zM404 620.5V601.9h1V620.5zM405 620.5V594.7h1V620.5zM406 620.5V582.0h1V620.5zM408 620.5V586.4h1V620.5zM409 620.5V595.5h1V620.5zM411 620.5V591.3h1V620.5zM412 620.5V591.5h1V620.5zM413 620.5V590.2h1V620.5zM415 620.5V590.7h1V620.5zM416 620.5V596.9h1V620.5zM418 620.5V594.2h1V620.5zM425 620.5V596.7h1V620.5zM426 620.5V592.5h1V620.5zM428 620.5V591.9h1V620.5zM429 620.5V570.2h1V620.5zM430 620.5V600.2h1V620.5zM432 620.5V588.4h1V620.5zM433 620.5V598.4h1V620.5zM435 620.5V594.4h1V620.5zM436 620.5V568.4h1V620.5zM437 620.5V592.2h1V620.5zM439 620.5V592.8h1V620.5zM440 620.5V578.2h1V620.5zM442 620.5V588.9h1V620.5zM443 620.5V584.1h1V620.5zM444 620.5V590.6h1V620.5zM446 620.5V593.9h1V620.5zM447 620.5V600.1h1V620.5zM449 620.5V604.4h1V620.5zM456 620.5V594.4h1V620.5zM457 620.5V595.9h1V620.5zM459 620.5V594.6h1V620.5zM460 620.5V598.4h1V620.5zM461 620.5V588.3h1V620.5zM463 620.5V594.1h1V620.5zM464 620.5V603.0h1V620.5zM466 620.5V600.8h1V620.5zM467 620.5V598.4h1V620.5zM468 620.5V595.1h1V620.5zM470 620.5V605.3h1V620.5zM471 620.5V605.4h1V620.5zM473 620.5V598.8h1V620.5zM474 620.5V590.9h1V620.5zM475 620.5V599.5h1V620.5zM477 620.5V602.0h1V620.5zM478 620.5V596.6h1V620.5zM487 620.5V606.9h1V620.5zM488 620.5V608.8h1V620.5zM490 620.5V598.4h1V620.5zM491 620.5V602.3h1V620.5zM492 620.5V597.3h1V620.5zM494 620.5V596.9h1V620.5zM495 620.5V566.5h1V620.5zM497 620.5V599.2h1V620.5zM498 620.5V601.1h1V620.5zM499 620.5V603.0h1V620.5zM501 620.5V602.1h1V620.5zM502 620.5V600.3h1V620.5zM504 620.5V595.5h1V620.5zM505 620.5V598.8h1V620.5zM506 620.5V593.6h1V620.5zM508 620.5V603.6h1V620.5zM509 620.5V597.8h1V620.5zM518 620.5V600.1h1V620.5zM519 620.5V599.6h1V620.5zM521 620.5V605.7h1V620.5zM522 620.5V601.3h1V620.5zM523 620.5V602.2h1V620.5zM525 620.5V601.4h1V620.5zM526 620.5V574.5h1V620.5zM528 620.5V606.1h1V620.5zM529 620.5V583.7h1V620.5zM530 620.5V594.2h1V620.5zM532 620.5V599.7h1V620.5zM533 620.5V603.7h1V620.5zM535 620.5V598.2h1V620.5zM536 620.5V605.9h1V620.5zM537 620.5V603.9h1V620.5zM539 620.5V601.9h1V620.5zM540 620.5V600.6h1V620.5zM549 620.5V565.5h1V620.5zM550 620.5V609.0h1V620.5zM552 620.5V607.6h1V620.5zM553 620.5V596.1h1V620.5zM554 620.5V605.3h1V620.5zM556 620.5V607.2h1V620.5zM557 620.5V604.6h1V620.5zM559 620.5V599.0h1V620.5zM560 620.5V596.3h1V620.5zM561 620.5V599.5h1V620.5zM563 620.5V605.8h1V620.5zM564 620.5V606.4h1V620.5zM566 620.5V605.1h1V620.5zM567 620.5V604.8h1V620.5zM568 620.5V608.4h1V620.5zM570 620.5V597.3h1V620.5zM571 620.5V595.9h1V620.5zM578 620.5V611.6h1V620.5zM580 620.5V598.6h1V620.5zM581 620.5V609.9h1V620.5zM583 620.5V602.6h1V620.5zM584 620.5V601.6h1V620.5zM585 620.5V610.6h1V620.5zM587 620.5V601.8h1V620.5zM588 620.5V610.9h1V620.5zM590 620.5V602.7h1V620.5zM591 620.5V604.8h1V620.5zM592 620.5V603.6h1V620.5zM594 620.5V596.0h1V620.5zM595 620.5V596.7h1V620.5zM597 620.5V593.3h1V620.5zM598 620.5V602.8h1V620.5zM599 620.5V598.6h1V620.5zM601 620.5V576.5h1V620.5zM602 620.5V605.1h1V620.5zM609 620.5V608.7h1V620.5zM611 620.5V609.7h1V620.5zM612 620.5V611.9h1V620.5zM614 620.5V604.0h1V620.5zM615 620.5V611.1h1V620.5zM616 620.5V599.1h1V620.5zM618 620.5V609.5h1V620.5zM619 620.5V612.1h1V620.5zM621 620.5V606.8h1V620.5zM622 620.5V610.1h1V620.5zM623 620.5V613.8h1V620.5zM625 620.5V610.1h1V620.5zM626 620.5V603.5h1V620.5zM628 620.5V603.5h1V620.5zM629 620.5V599.2h1V620.5zM630 620.5V608.2h1V620.5zM632 620.5V604.8h1V620.5zM639 620.5V608.2h1V620.5zM640 620.5V607.3h1V620.5zM642 620.5V612.9h1V620.5zM643 620.5V611.8h1V620.5zM645 620.5V605.3h1V620.5zM646 620.5V610.9h1V620.5zM647 620.5V610.1h1V620.5zM649 620.5V603.9h1V620.5zM650 620.5V611.5h1V620.5zM652 620.5V611.9h1V620.5zM653 620.5V607.8h1V620.5zM654 620.5V609.4h1V620.5zM656 620.5V606.2h1V620.5zM657 620.5V606.4h1V620.5zM659 620.5V607.1h1V620.5zM660 620.5V609.0h1V620.5zM661 620.5V610.9h1V620.5zM663 620.5V612.3h1V620.5zM670 620.5V610.2h1V620.5zM671 620.5V611.7h1V620.5zM673 620.5V612.6h1V620.5zM674 620.5V614.3h1V620.5zM676 620.5V603.4h1V620.5zM677 620.5V613.1h1V620.5zM678 620.5V608.2h1V620.5zM680 620.5V609.1h1V620.5zM681 620.5V607.6h1V620.5zM683 620.5V608.9h1V620.5zM684 620.5V611.1h1V620.5zM685 620.5V611.3h1V620.5zM687 620.5V611.4h1V620.5zM688 620.5V611.3h1V620.5zM690 620.5V608.0h1V620.5zM691 620.5V603.2h1V620.5zM692 620.5V608.1h1V620.5zM694 620.5V607.9h1V620.5zM701 620.5V606.4h1V620.5zM702 620.5V612.4h1V620.5zM704 620.5V604.9h1V620.5zM705 620.5V612.4h1V620.5zM707 620.5V611.8h1V620.5zM708 620.5V610.5h1V620.5zM709 620.5V605.6h1V620.5zM711 620.5V609.8h1V620.5zM712 620.5V599.0h1V620.5zM714 620.5V610.8h1V620.5zM715 620.5V610.4h1V620.5zM716 620.5V611.5h1V620.5zM718 620.5V607.7h1V620.5zM719 620.5V613.1h1V620.5zM721 620.5V612.0h1V620.5zM722 620.5V612.8h1V620.5zM723 620.5V609.8h1V620.5zM731 620.5V604.8h1V620.5zM732 620.5V604.4h1V620.5zM733 620.5V611.4h1V620.5zM735 620.5V614.7h1V620.5zM736 620.5V600.8h1V620.5zM738 620.5V609.2h1V620.5zM739 620.5V612.4h1V620.5zM740 620.5V608.6h1V620.5zM742 620.5V611.2h1V620.5zM743 620.5V609.5h1V620.5zM745 620.5V609.6h1V620.5zM746 620.5V605.1h1V620.5zM747 620.5V612.7h1V620.5zM749 620.5V607.7h1V620.5zM750 620.5V609.7h1V620.5zM752 620.5V608.8h1V620.5zM753 620.5V606.1h1V620.5zM754 620.5V611.4h1V620.5zM762 620.5V612.5h1V620.5zM763 620.5V612.6h1V620.5zM764 620.5V609.6h1V620.5zM766 620.5V609.9h1V620.5zM767 620.5V609.5h1V620.5zM769 620.5V609.3h1V620.5zM770 620.5V609.0h1V620.5zM771 620.5V610.3h1V620.5zM773 620.5V607.9h1V620.5zM774 620.5V603.4h1V620.5zM776 620.5V617.6h1V620.5zM777 620.5V610.9h1V620.5zM778 620.5V606.0h1V620.5zM780 620.5V609.9h1V620.5zM781 620.5V613.2h1V620.5zM783 620.5V611.1h1V620.5zM784 620.5V606.9h1V620.5zM785 620.5V608.3h1V620.5zM793 620.5V609.8h1V620.5zM794 620.5V613.1h1V620.5zM795 620.5V610.3h1V620.5zM797 620.5V610.1h1V620.5zM798 620.5V611.8h1V620.5zM800 620.5V611.6h1V620.5zM801 620.5V602.1h1V620.5zM802 620.5V612.1h1V620.5zM804 620.5V614.5h1V620.5zM805 620.5V606.4h1V620.5zM807 620.5V613.7h1V620.5zM808 620.5V612.0h1V620.5zM809 620.5V611.3h1V620.5zM811 620.5V611.2h1V620.5zM812 620.5V610.0h1V620.5zM814 620.5V612.1h1V620.5zM815 620.5V610.6h1V620.5zM816 620.5V607.8h1V620.5zM824 620.5V607.2h1V620.5zM825 620.5V610.2h1V620.5zM826 620.5V613.4h1V620.5zM828 620.5V608.0h1V620.5zM829 620.5V608.4h1V620.5zM831 620.5V609.9h1V620.5zM832 620.5V611.5h1V620.5zM833 620.5V608.0h1V620.5zM835 620.5V611.4h1V620.5zM836 620.5V604.1h1V620.5zM838 620.5V611.0h1V620.5zM839 620.5V602.5h1V620.5zM840 620.5V610.9h1V620.5zM842 620.5V611.8h1V620.5zM843 620.5V609.4h1V620.5zM845 620.5V608.4h1V620.5zM846 620.5V607.7h1V620.5zM847 620.5V613.9h1V620.5zM855 620.5V610.9h1V620.5zM856 620.5V605.5h1V620.5zM857 620.5V610.4h1V620.5zM859 620.5V608.5h1V620.5zM860 620.5V614.6h1V620.5zM862 620.5V607.4h1V620.5zM863 620.5V606.4h1V620.5zM864 620.5V609.7h1V620.5zM866 620.5V603.1h1V620.5zM867 620.5V607.1h1V620.5zM869 620.5V604.6h1V620.5zM870 620.5V604.9h1V620.5zM871 620.5V606.3h1V620.5zM873 620.5V608.7h1V620.5zM874 620.5V594.7h1V620.5zM876 620.5V610.0h1V620.5zM877 620.5V610.7h1V620.5zM886 620.5V606.8h1V620.5zM887 620.5V604.4h1V620.5zM888 620.5V602.5h1V620.5zM890 620.5V609.0h1V620.5zM891 620.5V611.8h1V620.5zM893 620.5V607.4h1V620.5zM894 620.5V612.6h1V620.5zM895 620.5V605.6h1V620.5zM897 620.5V603.8h1V620.5zM898 620.5V609.6h1V620.5zM900 620.5V610.3h1V620.5zM901 620.5V604.7h1V620.5zM902 620.5V609.9h1V620.5zM904 620.5V609.3h1V620.5zM905 620.5V612.3h1V620.5zM907 620.5V610.9h1V620.5zM908 620.5V607.8h1V620.5zM915 620.5V607.2h1V620.5zM917 620.5V608.1h1V620.5zM918 620.5V610.4h1V620.5zM919 620.5V603.8h1V620.5zM921 620.5V608.1h1V620.5zM922 620.5V607.7h1V620.5zM924 620.5V599.1h1V620.5zM925 620.5V609.3h1V620.5zM926 620.5V606.8h1V620.5zM928 620.5V610.5h1V620.5zM929 620.5V608.6h1V620.5zM931 620.5V611.5h1V620.5zM932 620.5V606.4h1V620.5zM933 620.5V610.3h1V620.5zM935 620.5V600.4h1V620.5zM936 620.5V601.5h1V620.5zM938 620.5V610.3h1V620.5zM939 620.5V609.4h1V620.5zM946 620.5V606.8h1V620.5zM948 620.5V608.0h1V620.5zM949 620.5V605.9h1V620.5zM950 620.5V606.5h1V620.5zM952 620.5V605.0h1V620.5zM953 620.5V597.6h1V620.5zM955 620.5V603.0h1V620.5zM956 620.5V599.0h1V620.5zM957 620.5V605.3h1V620.5zM959 620.5V610.8h1V620.5zM960 620.5V598.6h1V620.5zM962 620.5V602.7h1V620.5zM963 620.5V582.5h1V620.5zM964 620.5V589.7h1V620.5zM966 620.5V583.5h1V620.5zM967 620.5V606.8h1V620.5zM969 620.5V600.4h1V620.5zM976 620.5V601.2h1V620.5zM977 620.5V598.7h1V620.5zM979 620.5V574.5h1V620.5zM980 620.5V599.1h1V620.5zM981 620.5V596.9h1V620.5zM983 620.5V592.7h1V620.5zM984 620.5V604.5h1V620.5zM986 620.5V607.1h1V620.5zM987 620.5V602.7h1V620.5zM988 620.5V596.8h1V620.5zM990 620.5V604.7h1V620.5zM991 620.5V599.1h1V620.5zM993 620.5V596.1h1V620.5zM994 620.5V609.3h1V620.5zM995 620.5V598.9h1V620.5zM997 620.5V602.6h1V620.5zM998 620.5V605.0h1V620.5zM1000 620.5V609.2h1V620.5zM1007 620.5V607.2h1V620.5zM1008 620.5V606.8h1V620.5zM1010 620.5V606.4h1V620.5zM1011 620.5V610.9h1V620.5zM1012 620.5V607.1h1V620.5zM1014 620.5V607.1h1V620.5zM1015 620.5V610.3h1V620.5zM1017 620.5V601.7h1V620.5zM1018 620.5V606.6h1V620.5zM1019 620.5V609.9h1V620.5zM1021 620.5V610.7h1V620.5zM1022 620.5V604.4h1V620.5zM1024 620.5V607.3h1V620.5zM1025 620.5V610.1h1V620.5zM1026 620.5V597.9h1V620.5zM1028 620.5V610.2h1V620.5zM1029 620.5V609.6h1V620.5zM1031 620.5V608.1h1V620.5zM1038 620.5V604.0h1V620.5zM1039 620.5V607.5h1V620.5zM1041 620.5V613.0h1V620.5zM1042 620.5V601.6h1V620.5zM1043 620.5V610.6h1V620.5zM1045 620.5V608.3h1V620.5zM1046 620.5V608.8h1V620.5zM1048 620.5V604.6h1V620.5zM1049 620.5V607.2h1V620.5zM1050 620.5V606.4h1V620.5zM1052 620.5V605.3h1V620.5zM1053 620.5V603.5h1V620.5zM1055 620.5V600.3h1V620.5zM1056 620.5V613.0h1V620.5zM1057 620.5V610.0h1V620.5zM1059 620.5V601.0h1V620.5zM1060 620.5V611.1h1V620.5zM1069 620.5V605.9h1V620.5zM1070 620.5V607.0h1V620.5zM1072 620.5V601.3h1V620.5zM1073 620.5V608.0h1V620.5zM1074 620.5V607.1h1V620.5zM1076 620.5V605.5h1V620.5zM1077 620.5V609.9h1V620.5zM1079 620.5V601.2h1V620.5zM1080 620.5V608.7h1V620.5zM1081 620.5V601.6h1V620.5zM1083 620.5V603.5h1V620.5zM1084 620.5V603.3h1V620.5zM1086 620.5V610.0h1V620.5zM1087 620.5V605.0h1V620.5zM1088 620.5V601.5h1V620.5zM1090 620.5V609.7h1V620.5zM1091 620.5V604.5h1V620.5zM1100 620.5V592.5h1V620.5zM1101 620.5V604.3h1V620.5zM1103 620.5V605.3h1V620.5zM1104 620.5V611.2h1V620.5zM1105 620.5V608.1h1V620.5zM1107 620.5V606.7h1V620.5zM1108 620.5V608.4h1V620.5zM1110 620.5V609.5h1V620.5zM1111 620.5V604.0h1V620.5zM1112 620.5V601.7h1V620.5zM1114 620.5V604.9h1V620.5zM1115 620.5V605.6h1V620.5zM1117 620.5V610.1h1V620.5zM1118 620.5V604.2h1V620.5zM1119 620.5V608.3h1V620.5zM1121 620.5V608.0h1V620.5zM1121 620.5V619.9h1V620.5z" fill="#bfbfbf" shape-rendering="crispEdges"/>
<line x1="213.50" x2="213.50" y1="471.5" y2="620.5" stroke="#b0b0b0" stroke-width="1"/>
<line x1="393.50" x2="393.50" y1="471.5" y2="620.5" stroke="#b0b0b0" stroke-width="1"/>
<line x1="572.50" x2="572.50" y1="471.5" y2="620.5" stroke="#b0b0b0" stroke-width="1"/>
<line x1="752.50" x2="752.50" y1="471.5" y2="620.5" stroke="#b0b0b0" stroke-width="1"/>
<line x1="932.50" x2="932.50" y1="471.5" y2="620.5" stroke="#b0b0b0" stroke-width="1"/>
<line x1="1111.50" x2="1111.50" y1="471.5" y2="620.5" stroke="#b0b0b0" stroke-width="1"/>
<line x1="86.5" x2="1171.5" y1="582.5" y2="582.5" stroke="#b0b0b0" stroke-width="1"/>
<line x1="86.5" x2="1171.5" y1="545.5" y2="545.5" stroke="#b0b0b0" stroke-width="1"/>
<line x1="86.5" x2="1171.5" y1="507.5" y2="507.5" stroke="#b0b0b0" stroke-width="1"/>
</g>
<rect x="86.5" y="471.5" width="1085.0" height="149.0" fill="none" stroke="#000" stroke-width="1"/>
<line x1="81.1" x2="86.5" y1="620.5" y2="620.5" stroke="#000" stroke-width="1"/>
<text x="75.60" y="624.90" font-size="12.5" text-anchor="end" fill="#1a1a1a" textLength="7.6" lengthAdjust="spacingAndGlyphs">0</text>
<line x1="81.1" x2="86.5" y1="582.5" y2="582.5" stroke="#000" stroke-width="1"/>
<text x="75.60" y="586.90" font-size="12.5" text-anchor="end" fill="#1a1a1a" textLength="48.4" lengthAdjust="spacingAndGlyphs">200000</text>
<line x1="81.1" x2="86.5" y1="545.5" y2="545.5" stroke="#000" stroke-width="1"/>
<text x="75.60" y="549.90" font-size="12.5" text-anchor="end" fill="#1a1a1a" textLength="48.4" lengthAdjust="spacingAndGlyphs">400000</text>
<line x1="81.1" x2="86.5" y1="507.5" y2="507.5" stroke="#000" stroke-width="1"/>
<text x="75.60" y="511.90" font-size="12.5" text-anchor="end" fill="#1a1a1a" textLength="48.4" lengthAdjust="spacingAndGlyphs">600000</text>
<line x1="213.50" x2="213.50" y1="620.5" y2="625.9" stroke="#000" stroke-width="1"/>
<text x="213.90" y="638.90" font-size="12.5" text-anchor="middle" fill="#1a1a1a" textLength="51.6" lengthAdjust="spacingAndGlyphs">2021-01</text>
<line x1="393.50" x2="393.50" y1="620.5" y2="625.9" stroke="#000" stroke-width="1"/>
<text x="393.90" y="638.90" font-size="12.5" text-anchor="middle" fill="#1a1a1a" textLength="51.6" lengthAdjust="spacingAndGlyphs">2022-01</text>
<line x1="572.50" x2="572.50" y1="620.5" y2="625.9" stroke="#000" stroke-width="1"/>
<text x="572.90" y="638.90" font-size="12.5" text-anchor="middle" fill="#1a1a1a" textLength="51.6" lengthAdjust="spacingAndGlyphs">2023-01</text>
<line x1="752.50" x2="752.50" y1="620.5" y2="625.9" stroke="#000" stroke-width="1"/>
<text x="752.90" y="638.90" font-size="12.5" text-anchor="middle" fill="#1a1a1a" textLength="51.6" lengthAdjust="spacingAndGlyphs">2024-01</text>
<line x1="932.50" x2="932.50" y1="620.5" y2="625.9" stroke="#000" stroke-width="1"/>
<text x="932.90" y="638.90" font-size="12.5" text-anchor="middle" fill="#1a1a1a" textLength="51.6" lengthAdjust="spacingAndGlyphs">2025-01</text>
<line x1="1111.50" x2="1111.50" y1="620.5" y2="625.9" stroke="#000" stroke-width="1"/>
<text x="1111.90" y="638.90" font-size="12.5" text-anchor="middle" fill="#1a1a1a" textLength="51.6" lengthAdjust="spacingAndGlyphs">2026-01</text>
<text transform="translate(18.4,547.3) rotate(-90)" font-size="12.5" text-anchor="middle" fill="#1a1a1a" textLength="43.1" lengthAdjust="spacingAndGlyphs">Volume</text>
<text x="86.80" y="675.70" font-size="16.3" text-anchor="start" fill="#000" textLength="44.4" lengthAdjust="spacingAndGlyphs">BRK-B</text>
<text x="137.60" y="675.70" font-size="16.7" text-anchor="start" fill="#000" textLength="67.0" lengthAdjust="spacingAndGlyphs">交易次数</text>
<text x="205.60" y="675.70" font-size="16.3" text-anchor="start" fill="#000">:</text>
<text x="214.40" y="675.70" font-size="16.3" text-anchor="start" fill="#000" textLength="8.8" lengthAdjust="spacingAndGlyphs">5</text>
<text x="86.10" y="696.00" font-size="16.7" text-anchor="start" fill="#000" textLength="99.8" lengthAdjust="spacingAndGlyphs">策略总收益率</text>
<text x="187.00" y="696.00" font-size="16.3" text-anchor="start" fill="#000">:</text>
<text x="197.00" y="696.00" font-size="16.3" text-anchor="start" fill="#000" textLength="64.7" lengthAdjust="spacingAndGlyphs">148.53%</text>
<text x="86.10" y="715.70" font-size="16.7" text-anchor="start" fill="#000" textLength="99.8" lengthAdjust="spacingAndGlyphs">长期持有收益</text>
<text x="187.00" y="715.70" font-size="16.3" text-anchor="start" fill="#000">:</text>
<text x="197.00" y="715.70" font-size="16.3" text-anchor="start" fill="#000" textLength="64.7" lengthAdjust="spacingAndGlyphs">131.78%</text>
<text x="86.10" y="734.70" font-size="16.7" text-anchor="start" fill="#000" textLength="66.7" lengthAdjust="spacingAndGlyphs">交易记录</text>
<text x="153.20" y="734.70" font-size="16.3" text-anchor="start" fill="#000">:</text>
<text x="96.60" y="751.60" font-size="16.3" text-anchor="start" fill="#000" textLength="64.1" lengthAdjust="spacingAndGlyphs">Buy Date</text>
<text x="172.00" y="751.60" font-size="16.3" text-anchor="start" fill="#000" textLength="66.2" lengthAdjust="spacingAndGlyphs">Buy Price</text>
<text x="249.10" y="751.60" font-size="16.3" text-anchor="start" fill="#000" textLength="64.8" lengthAdjust="spacingAndGlyphs">Sell Date</text>
<text x="325.40" y="751.60" font-size="16.3" text-anchor="start" fill="#000" textLength="66.6" lengthAdjust="spacingAndGlyphs">Sell Price</text>
<text x="403.70" y="751.60" font-size="16.3" text-anchor="start" fill="#000" textLength="93.3" lengthAdjust="spacingAndGlyphs">Holding Days</text>
<text x="508.50" y="751.60" font-size="16.3" text-anchor="start" fill="#000" textLength="53.4" lengthAdjust="spacingAndGlyphs">Profit %</text>
<text x="86.60" y="769.50" font-size="16.3" text-anchor="start" fill="#000" textLength="88.4" lengthAdjust="spacingAndGlyphs">2020-10-06</text>
<text x="201.50" y="769.50" font-size="16.3" text-anchor="start" fill="#000" textLength="53.4" lengthAdjust="spacingAndGlyphs">210.14</text>
<text x="261.00" y="769.50" font-size="16.3" text-anchor="start" fill="#000" textLength="88.5" lengthAdjust="spacingAndGlyphs">2021-06-09</text>
<text x="380.90" y="769.50" font-size="16.3" text-anchor="start" fill="#000" textLength="53.3" lengthAdjust="spacingAndGlyphs">288.39</text>
<text x="490.70" y="769.50" font-size="16.3" text-anchor="start" fill="#000" textLength="28.0" lengthAdjust="spacingAndGlyphs">246</text>
<text x="545.40" y="769.50" font-size="16.3" text-anchor="start" fill="#000" textLength="43.9" lengthAdjust="spacingAndGlyphs">37.24</text>
<text x="86.60" y="786.65" font-size="16.3" text-anchor="start" fill="#000" textLength="88.4" lengthAdjust="spacingAndGlyphs">2021-06-17</text>
<text x="201.50" y="786.65" font-size="16.3" text-anchor="start" fill="#000" textLength="53.4" lengthAdjust="spacingAndGlyphs">278.74</text>
<text x="261.00" y="786.65" font-size="16.3" text-anchor="start" fill="#000" textLength="88.5" lengthAdjust="spacingAndGlyphs">2022-04-13</text>
<text x="380.90" y="786.65" font-size="16.3" text-anchor="start" fill="#000" textLength="53.3" lengthAdjust="spacingAndGlyphs">346.05</text>
<text x="490.70" y="786.65" font-size="16.3" text-anchor="start" fill="#000" textLength="28.0" lengthAdjust="spacingAndGlyphs">300</text>
<text x="545.40" y="786.65" font-size="16.3" text-anchor="start" fill="#000" textLength="43.9" lengthAdjust="spacingAndGlyphs">24.15</text>
<text x="86.60" y="803.80" font-size="16.3" text-anchor="start" fill="#000" textLength="88.4" lengthAdjust="spacingAndGlyphs">2022-04-22</text>
<text x="201.50" y="803.80" font-size="16.3" text-anchor="start" fill="#000" textLength="53.4" lengthAdjust="spacingAndGlyphs">335.19</text>
<text x="261.00" y="803.80" font-size="16.3" text-anchor="start" fill="#000" textLength="88.5" lengthAdjust="spacingAndGlyphs">2024-03-07</text>
<text x="380.90" y="803.80" font-size="16.3" text-anchor="start" fill="#000" textLength="53.3" lengthAdjust="spacingAndGlyphs">402.44</text>
<text x="490.70" y="803.80" font-size="16.3" text-anchor="start" fill="#000" textLength="28.0" lengthAdjust="spacingAndGlyphs">685</text>
<text x="545.40" y="803.80" font-size="16.3" text-anchor="start" fill="#000" textLength="43.9" lengthAdjust="spacingAndGlyphs">20.06</text>
<text x="86.60" y="820.95" font-size="16.3" text-anchor="start" fill="#000" textLength="88.4" lengthAdjust="spacingAndGlyphs">2024-04-12</text>
<text x="201.50" y="820.95" font-size="16.3" text-anchor="start" fill="#000" textLength="53.4" lengthAdjust="spacingAndGlyphs">403.22</text>
<text x="261.00" y="820.95" font-size="16.3" text-anchor="start" fill="#000" textLength="88.5" lengthAdjust="spacingAndGlyphs">2025-04-04</text>
<text x="380.90" y="820.95" font-size="16.3" text-anchor="start" fill="#000" textLength="53.3" lengthAdjust="spacingAndGlyphs">493.56</text>
<text x="490.70" y="820.95" font-size="16.3" text-anchor="start" fill="#000" textLength="28.0" lengthAdjust="spacingAndGlyphs">357</text>
<text x="545.40" y="820.95" font-size="16.3" text-anchor="start" fill="#000" textLength="43.9" lengthAdjust="spacingAndGlyphs">22.40</text>
<text x="86.60" y="838.10" font-size="16.3" text-anchor="start" fill="#000" textLength="88.4" lengthAdjust="spacingAndGlyphs">2025-04-07</text>
<text x="201.50" y="838.10" font-size="16.3" text-anchor="start" fill="#000" textLength="53.4" lengthAdjust="spacingAndGlyphs">490.69</text>
<text x="261.00" y="838.10" font-size="16.3" text-anchor="start" fill="#000" textLength="88.5" lengthAdjust="spacingAndGlyphs">2026-01-21</text>
<text x="380.90" y="838.10" font-size="16.3" text-anchor="start" fill="#000" textLength="53.3" lengthAdjust="spacingAndGlyphs">487.07</text>
<text x="490.70" y="838.10" font-size="16.3" text-anchor="start" fill="#000" textLength="28.0" lengthAdjust="spacingAndGlyphs">289</text>
<text x="545.40" y="838.10" font-size="16.3" text-anchor="start" fill="#000" textLength="38.9" lengthAdjust="spacingAndGlyphs">-0.74</text>
</svg>
</body></html>
